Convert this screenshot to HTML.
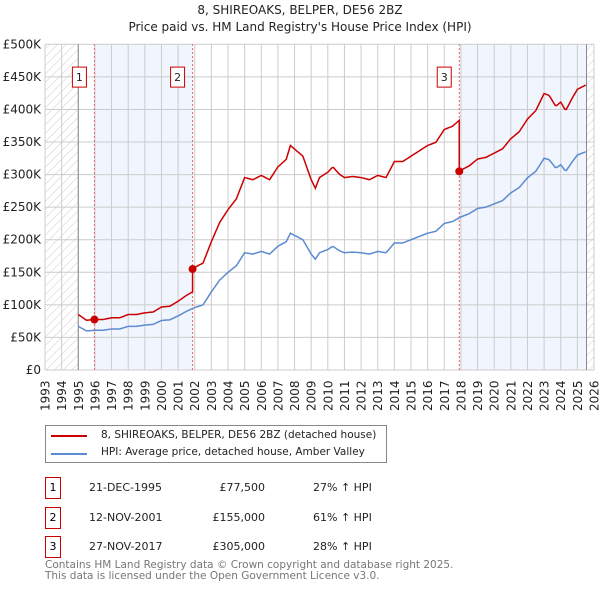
<!DOCTYPE html>
<html><head><meta charset="utf-8"><style>
body{margin:0;background:#fff;font-family:"DejaVu Sans","Liberation Sans",sans-serif;}
#wrap{position:relative;width:600px;height:590px;overflow:hidden;}
.t{position:absolute;font-size:11px;color:#222;white-space:nowrap;}
.s{font-size:10.5px;}
.num{position:absolute;border:1px solid #c00;width:14px;height:20px;text-align:center;line-height:20px;font-size:11px;}
</style></head><body><div id="wrap">
<svg id="svg" width="600" height="420" style="position:absolute;left:0;top:0;font-family:'DejaVu Sans',sans-serif">
<defs><pattern id="hatch" width="6" height="6" patternUnits="userSpaceOnUse" patternTransform="rotate(45)"><line x1="0" y1="0" x2="0" y2="6" stroke="#ccc" stroke-width="1"/></pattern></defs>
<text x="300" y="14" text-anchor="middle" font-size="12" fill="#222">8, SHIREOAKS, BELPER, DE56 2BZ</text>
<text x="300" y="31" text-anchor="middle" font-size="12" fill="#222">Price paid vs. HM Land Registry's House Price Index (HPI)</text>
<g id="g"></g>
</svg>
<div style="position:absolute;left:45px;top:425px;width:340px;height:36px;border:1px solid #888">
<div style="position:absolute;left:5px;top:9px;width:36px;height:2px;background:#c00"></div>
<div class="t s" style="left:55px;top:3px">8, SHIREOAKS, BELPER, DE56 2BZ (detached house)</div>
<div style="position:absolute;left:5px;top:27px;width:36px;height:2px;background:#5b8bd0"></div>
<div class="t s" style="left:55px;top:20px">HPI: Average price, detached house, Amber Valley</div>
</div>
<div id="rows"></div>
<div class="t s" style="left:45px;top:559px;color:#777">Contains HM Land Registry data © Crown copyright and database right 2025.</div>
<div class="t s" style="left:45px;top:570px;color:#777">This data is licensed under the Open Government Licence v3.0.</div>
</div>
<script>
const hpiYears=[1995,1995.5,1996,1996.5,1997,1997.5,1998,1998.5,1999,1999.5,2000,2000.5,2001,2001.5,2002,2002.5,2003,2003.5,2004,2004.5,2005,2005.5,2006,2006.5,2007,2007.5,2007.75,2008.5,2009,2009.25,2009.5,2010,2010.3,2010.7,2011,2011.5,2012,2012.5,2013,2013.5,2014,2014.5,2015,2015.5,2016,2016.5,2017,2017.5,2018,2018.5,2019,2019.5,2020,2020.5,2021,2021.5,2022,2022.5,2023,2023.3,2023.7,2024,2024.3,2024.7,2025,2025.5];
const hpiValues=[67,60,61,61,63,63,67,67,69,70,76,77,83,90,96,100,120,138,150,160,180,178,182,178,190,197,210,200,178,170,180,185,190,183,180,181,180,178,182,180,195,195,200,205,210,213,225,228,235,240,248,250,255,260,272,280,295,305,325,323,310,315,305,320,330,335];
const saleYears=[1995.97,2001.87,2017.9];
const salePrices=[77.5,155,305];
const saleLabels=["1","2","3"];
const saleDates=["21-DEC-1995","12-NOV-2001","27-NOV-2017"];
const salePriceText=["£77,500","£155,000","£305,000"];
const salePct=["27% ↑ HPI","61% ↑ HPI","28% ↑ HPI"];
const yTicks=[0,50,100,150,200,250,300,350,400,450,500];
const yTickLabels=["£0","£50K","£100K","£150K","£200K","£250K","£300K","£350K","£400K","£450K","£500K"];
const xTicks=[1993,1994,1995,1996,1997,1998,1999,2000,2001,2002,2003,2004,2005,2006,2007,2008,2009,2010,2011,2012,2013,2014,2015,2016,2017,2018,2019,2020,2021,2022,2023,2024,2025,2026];

const X=y=>45+(y-1993)*(549/33), Y=v=>370-v*0.6514;
const g=document.getElementById('g'),NS="http://www.w3.org/2000/svg";
function mk(t,a){const e=document.createElementNS(NS,t);for(const k in a)e.setAttribute(k,a[k]);g.appendChild(e);return e;}
function hpiAt(t){for(let i=0;i<hpiYears.length-1;i++){if(t<=hpiYears[i+1]){const f=(t-hpiYears[i])/(hpiYears[i+1]-hpiYears[i]);return hpiValues[i]+f*(hpiValues[i+1]-hpiValues[i]);}}return hpiValues[hpiValues.length-1];}
let e;
e=mk('rect',{x:X(1993),y:Y(500),width:X(1995)-X(1993),height:Y(0)-Y(500),fill:'url(#hatch)'});

e=mk('rect',{x:X(2025.55),y:Y(500),width:X(2026)-X(2025.55),height:Y(0)-Y(500),fill:'url(#hatch)'});

e=mk('rect',{x:X(saleYears[0]),y:Y(500),width:X(saleYears[1])-X(saleYears[0]),height:Y(0)-Y(500),fill:'#eef3fc',opacity:0.8});

e=mk('rect',{x:X(saleYears[2]),y:Y(500),width:X(2025.55)-X(saleYears[2]),height:Y(0)-Y(500),fill:'#eef3fc',opacity:0.8});

yTicks.forEach((v,i)=>{
 e=mk('line',{x1:X(1993),x2:X(2026),y1:Y(v),y2:Y(v),stroke:'#ccc'});
 
 e=mk('text',{x:41,y:Y(v)+4,'text-anchor':'end','font-size':12,fill:'#222'});e.textContent=yTickLabels[i];
 
});
xTicks.forEach(t=>{
 e=mk('line',{x1:X(t),x2:X(t),y1:Y(0),y2:Y(500),stroke:'#ccc'});
 
 e=mk('text',{x:0,y:0,transform:`translate(${X(t)+4.5},411) rotate(-90)`,'font-size':12,fill:'#222'});e.textContent=t;
 
});
e=mk('line',{x1:X(1995),x2:X(1995),y1:Y(0),y2:Y(500),stroke:'#888'});

e=mk('line',{x1:X(2025.55),x2:X(2025.55),y1:Y(0),y2:Y(500),stroke:'#888'});

saleYears.forEach((s,i)=>{
 e=mk('line',{x1:X(s),x2:X(s),y1:Y(0),y2:Y(500),stroke:'#e66','stroke-dasharray':'2,2'});
 
 e=mk('rect',{x:X(s)-22,y:Y(465),width:14,height:20,fill:'#fff',stroke:'#c00'});
 
 e=mk('text',{x:X(s)-15,y:Y(465)+14,'text-anchor':'middle','font-size':11,fill:'#222'});e.textContent=saleLabels[i];
 
});
const steps=[];for(let t=1995;t<=2025.5001;t+=1/12)steps.push(t);
e=mk('polyline',{points:steps.map(t=>X(t)+','+Y(hpiAt(t))).join(' '),fill:'none',stroke:'#5b8bd0','stroke-width':1.5});

function propAt(t){let k=0;for(let i=0;i<saleYears.length;i++)if(t>=saleYears[i])k=i;return salePrices[k]*hpiAt(t)/hpiAt(saleYears[k]);}
const pts=[];steps.forEach(t=>{saleYears.forEach((s,i)=>{if(t-1/12<s&&t>=s&&i>0){pts.push(X(s)+','+Y(salePrices[i-1]*hpiAt(s)/hpiAt(saleYears[i-1])));pts.push(X(s)+','+Y(salePrices[i]));}});pts.push(X(t)+','+Y(propAt(t)));});
e=mk('polyline',{points:pts.join(' '),fill:'none',stroke:'#c00','stroke-width':1.5});

saleYears.forEach((s,i)=>{e=mk('circle',{cx:X(s),cy:Y(salePrices[i]),r:4,fill:'#c00'});
 });
const rows=document.getElementById('rows');
saleYears.forEach((s,i)=>{const top=477+i*29.5;
 rows.insertAdjacentHTML('beforeend',`<div class="num" style="left:45px;top:${top}px">${saleLabels[i]}</div>
<div class="t" style="left:89px;top:${top+4}px">${saleDates[i]}</div>
<div class="t" style="left:170px;width:95px;text-align:right;top:${top+4}px">${salePriceText[i]}</div>
<div class="t" style="left:313px;top:${top+4}px">${salePct[i]}</div>`);});
</script></body></html>
